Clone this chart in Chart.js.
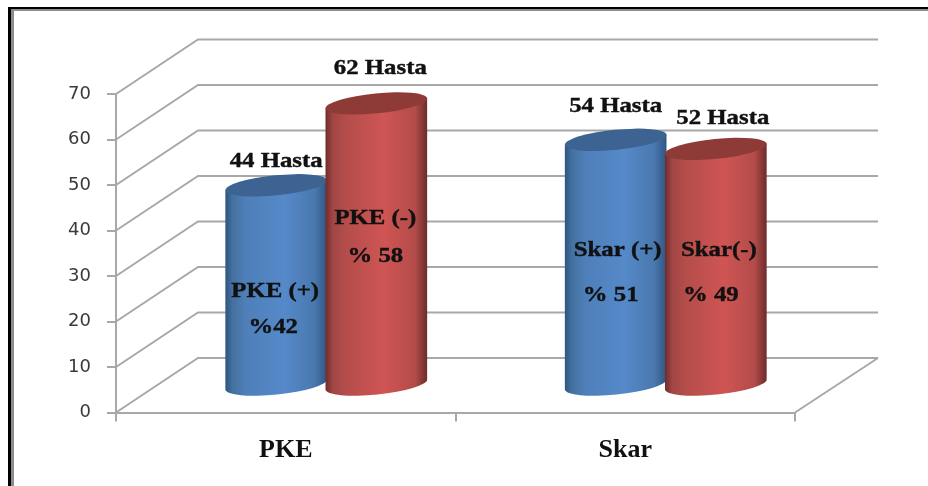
<!DOCTYPE html>
<html>
<head>
<meta charset="utf-8">
<style>
  html, body { margin: 0; padding: 0; background: #fff; }
  canvas { display: block; }
</style>
<script src="https://cdn.jsdelivr.net/npm/chart.js@4/dist/chart.umd.min.js"></script>
</head>
<body>
<canvas id="chart" width="928" height="486"></canvas>
<script>
const categories = ['PKE', 'Skar'];
const yTicks = [0, 10, 20, 30, 40, 50, 60, 70];
const plusValues = [44, 54];
const minusValues = [62, 52];
const plusCounts = ['44 Hasta', '54 Hasta'];
const minusCounts = ['62 Hasta', '52 Hasta'];
const plusNames = ['PKE (+)', 'Skar (+)'];
const minusNames = ['PKE (-)', 'Skar(-)'];
const plusPercents = ['%42', '% 51'];
const minusPercents = ['% 58', '% 49'];

// how far the back wall and the bars sit behind the front axes
const wallDx = 82, wallDy = -54.5;
const barDx = 40.5, barDy = -27;
const tilt = -0.1;
const serif = 'bold 21px "Liberation Serif"';
const lineColor = '#a8a8a8';

const blueBody = ['#2f5580', '#44719f', '#4e7fb9', '#5589c9', '#4a78ae', '#2f5684'];
const redBody = ['#702c2a', '#a04644', '#b44d4b', '#cf5553', '#b34c4a', '#6c2c2a'];
const blueTop = '#3c6392';
const redTop = '#8e3b38';

// text placement per [group][plus, minus]: [dx from bar centre, dy from bar top]
const countPos = [[[0, -25.5], [4, -36.5]], [[0, -34.5], [7, -31.5]]];
// [dx from bar centre, value level on the y axis]
const namePos = [[[-1, 27], [-1, 43]], [[2, 36], [3, 36]]];
const percentPos = [[[-3, 19], [-1, 34.5]], [[-5, 26], [-5, 26]]];

function stretchedText(ctx, text, x, y) {
  ctx.save();
  ctx.translate(x, y + 1.5);
  ctx.scale(1.18, 1);
  ctx.font = serif;
  ctx.fillStyle = '#111';
  ctx.strokeStyle = '#111';
  ctx.lineWidth = 0.4;
  ctx.textAlign = 'center';
  ctx.textBaseline = 'middle';
  ctx.fillText(text, 0, 0);
  ctx.strokeText(text, 0, 0);
  ctx.restore();
}

function drawCylinder(ctx, bar, stops, topColor) {
  const a = bar.width / 2 + 1;
  const b = 10;
  const cx = bar.x + barDx;
  const topY = bar.y + barDy;
  const baseY = bar.base + barDy;
  const ex = a * Math.cos(tilt);
  const ey = a * Math.sin(tilt);

  const grad = ctx.createLinearGradient(cx - ex, 0, cx + ex, 0);
  const at = [0, 0.07, 0.2, 0.58, 0.88, 1];
  stops.forEach((c, i) => grad.addColorStop(at[i], c));

  ctx.beginPath();
  ctx.moveTo(cx - ex, topY - ey);
  ctx.lineTo(cx - ex, baseY - ey);
  ctx.ellipse(cx, baseY, a, b, tilt, Math.PI, 0, true);
  ctx.lineTo(cx + ex, topY + ey);
  ctx.closePath();
  ctx.fillStyle = grad;
  ctx.fill();

  ctx.beginPath();
  ctx.ellipse(cx, topY, a, b, tilt, 0, Math.PI * 2);
  ctx.fillStyle = topColor;
  ctx.fill();
}

const cylinders = {
  id: 'cylinders',
  beforeDatasetsDraw(chart) {
    const ctx = chart.ctx;
    const y = chart.scales.y;
    const x = chart.scales.x;

    // page frame
    ctx.fillStyle = '#000';
    ctx.fillRect(8, 7, 3, 479);
    ctx.fillRect(8, 7, 920, 2);
    ctx.fillStyle = '#8c8c8c';
    ctx.fillRect(11, 9, 3, 477);
    ctx.fillRect(11, 9, 917, 2);

    // 3d walls
    ctx.strokeStyle = lineColor;
    ctx.lineWidth = 2;
    yTicks.forEach(v => {
      const py = y.getPixelForValue(v);
      ctx.beginPath();
      ctx.moveTo(x.left, py);
      ctx.lineTo(x.left + wallDx, py + wallDy);
      ctx.lineTo(x.right + wallDx + 1, py + wallDy);
      ctx.stroke();
    });
    const py0 = y.getPixelForValue(0);
    ctx.beginPath();
    ctx.moveTo(x.right, py0);
    ctx.lineTo(x.right + wallDx + 1, py0 + wallDy);
    ctx.stroke();

    // these sit behind the bars, the red bar cuts 44 Hasta
    [plusCounts, minusCounts].forEach((texts, d) => {
      chart.getDatasetMeta(d).data.forEach((bar, i) => {
        const p = countPos[i][d];
        stretchedText(ctx, texts[i], bar.x + barDx + p[0], bar.y + barDy + p[1]);
      });
    });
  },
  afterDatasetsDraw(chart) {
    const ctx = chart.ctx;
    const y = chart.scales.y;
    const plus = chart.getDatasetMeta(0).data;
    const minus = chart.getDatasetMeta(1).data;
    plus.forEach((bar, i) => {
      drawCylinder(ctx, bar, blueBody, blueTop);
      drawCylinder(ctx, minus[i], redBody, redTop);
    });

    const rows = [[plusNames, plusPercents, plus], [minusNames, minusPercents, minus]];
    rows.forEach((row, d) => {
      row[2].forEach((bar, i) => {
        const cx = bar.x + barDx;
        const n = namePos[i][d];
        const p = percentPos[i][d];
        stretchedText(ctx, row[0][i], cx + n[0], y.getPixelForValue(n[1]));
        stretchedText(ctx, row[1][i], cx + p[0], y.getPixelForValue(p[1]));
      });
    });
  }
};

new Chart(document.getElementById('chart'), {
  type: 'bar',
  data: {
    labels: categories,
    datasets: [
      { label: 'Pozitif', data: plusValues, backgroundColor: 'transparent' },
      { label: 'Negatif', data: minusValues, backgroundColor: 'transparent' }
    ]
  },
  options: {
    responsive: false,
    animation: false,
    devicePixelRatio: 1,
    categoryPercentage: 0.59,
    barPercentage: 1,
    layout: { padding: { left: 0, top: 94, right: 133, bottom: 0 } },
    plugins: { legend: { display: false }, tooltip: { enabled: false } },
    scales: {
      x: {
        afterFit: s => { s.height = 73.5; },
        border: { color: lineColor, width: 2 },
        grid: { drawOnChartArea: false, color: lineColor, lineWidth: 2, tickLength: 9 },
        ticks: {
          color: '#111',
          padding: 13,
          maxRotation: 0,
          font: { family: 'Liberation Serif', size: 26, weight: 'bold' }
        }
      },
      y: {
        min: 0,
        max: 70,
        afterFit: s => { s.width = 116; },
        border: { color: lineColor, width: 2 },
        grid: { drawOnChartArea: false, color: lineColor, lineWidth: 2, tickLength: 9 },
        ticks: {
          stepSize: 10,
          color: '#3a3a3a',
          padding: 16,
          font: { family: 'DejaVu Sans', size: 18 }
        }
      }
    }
  },
  plugins: [cylinders]
});
</script>
</body>
</html>
